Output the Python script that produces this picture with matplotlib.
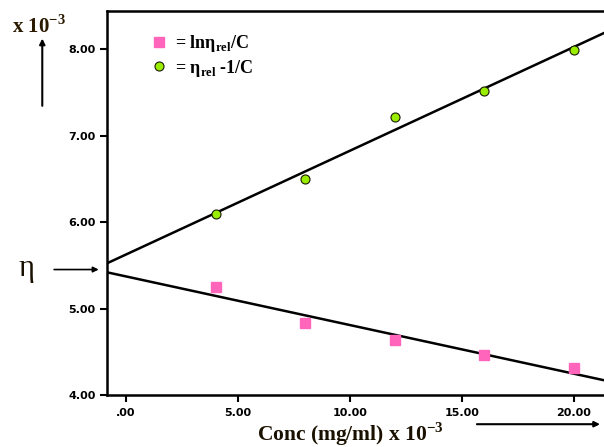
import numpy as np
import matplotlib.pyplot as plt

# concentration (mg/ml x 10^-3)
conc = [4, 8, 12, 16, 20]
# ln(eta_rel)/C
inh_visc = [5.25, 4.83, 4.64, 4.46, 4.31]
# (eta_rel - 1)/C
red_visc = [6.10, 6.50, 7.22, 7.52, 7.99]

xticks = [0, 5, 10, 15, 20]
xtick_labels = [".00", "5.00", "10.00", "15.00", "20.00"]
yticks = [4, 5, 6, 7, 8]
ytick_labels = ["4.00", "5.00", "6.00", "7.00", "8.00"]

serif = "Liberation Serif"
sans = "DejaVu Sans"

fig = plt.figure(figsize=(6.04, 4.47), dpi=100)
ax = fig.add_axes([0.177, 0.116, 0.825, 0.859])

xlim = (-0.85, 21.4)
ax.set_xlim(*xlim)
ax.set_ylim(4.0, 8.44)

# fitted straight lines
xx = np.array(xlim)
for y in (red_visc, inh_visc):
    k, b = np.polyfit(conc, y, 1)
    ax.plot(xx, k * xx + b, color="black", lw=1.8, zorder=2)

ax.plot(conc, inh_visc, ls="none", marker="s", ms=7.5, color="#ff66bb",
        mec="#ff66bb", zorder=3, label="= ln\u03b7$_{\\mathregular{rel}}$/C")
ax.plot(conc, red_visc, ls="none", marker="o", ms=6.5, color="#99ee00",
        mec="#1a1a00", mew=0.8, zorder=3, label="= \u03b7$_{\\mathregular{rel}}$ -1/C")

ax.set_xticks(xticks)
ax.set_xticklabels(xtick_labels)
ax.set_yticks(yticks)
ax.set_yticklabels(ytick_labels)
for lab in ax.get_xticklabels() + ax.get_yticklabels():
    lab.set_fontfamily(sans)
    lab.set_fontweight("bold")
    lab.set_fontsize(8)
ax.tick_params(direction="out", length=5, width=1.5, pad=3)
ax.tick_params(axis="x", pad=4)
for s in ["left", "bottom", "top"]:
    ax.spines[s].set_linewidth(1.8)
ax.spines["right"].set_visible(False)

leg = ax.legend(loc="upper left", bbox_to_anchor=(0.05, 0.985), frameon=False,
                handletextpad=0.3, labelspacing=0.2, handlelength=1.2,
                prop={"family": serif, "weight": "bold", "size": 13})

# x label placed by hand so it fits the bottom edge
fig.text(0.58, 0.014, "Conc (mg/ml) x 10$^{\\mathregular{-3}}$", ha="center",
         va="baseline", fontfamily=serif, fontweight="bold", fontsize=15.5,
         color="#1a1000")

# annotations outside axes
fig.text(0.02, 0.926, "x 10$^{\\mathregular{-3}}$", fontfamily=serif,
         fontweight="bold", fontsize=15, color="#2a1a00")
fig.add_artist(plt.Annotation("", xy=(0.07, 0.92), xytext=(0.07, 0.757),
                              xycoords="figure fraction",
                              arrowprops=dict(arrowstyle="-|>", color="black",
                                              lw=1.5, mutation_scale=8)))
fig.text(0.03, 0.383, "\u03b7", fontfamily=serif, fontsize=22, color="#1a1000")
fig.add_artist(plt.Annotation("", xy=(0.168, 0.397), xytext=(0.085, 0.397),
                              xycoords="figure fraction",
                              arrowprops=dict(arrowstyle="-|>", color="black",
                                              lw=1.2, mutation_scale=8)))
fig.add_artist(plt.Annotation("", xy=(0.998, 0.051), xytext=(0.785, 0.051),
                              xycoords="figure fraction",
                              arrowprops=dict(arrowstyle="-|>", color="black",
                                              lw=1.5, mutation_scale=8)))

fig.savefig("out.png", dpi=100)
